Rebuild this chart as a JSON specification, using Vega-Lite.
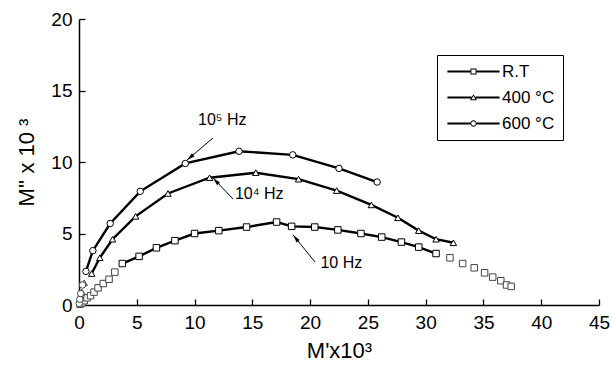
{
  "$schema": "https://vega.github.io/schema/vega-lite/v6.json",
  "width": 520,
  "height": 286,
  "autosize": "none",
  "padding": {"left": 79, "top": 19, "right": 13, "bottom": 65},
  "background": "white",
  "config": {
    "view": {"stroke": null},
    "font": "Liberation Sans",
    "axis": {
      "grid": false,
      "domainColor": "black",
      "domainWidth": 1.5,
      "tickColor": "black",
      "tickWidth": 1.3,
      "labelColor": "black",
      "labelFont": "Liberation Sans",
      "labelFontSize": 19,
      "titleFont": "Liberation Sans",
      "titleFontSize": 22,
      "titleFontWeight": "normal",
      "titleColor": "black",
      "labelOverlap": false,
      "labelFlush": false
    }
  },
  "datasets": {
    "pts": [
      {"s": "R.T", "x": 0.1, "y": 0.05, "c": 0},
      {"s": "R.T", "x": 0.25, "y": 0.15, "c": 0},
      {"s": "R.T", "x": 0.45, "y": 0.3, "c": 0},
      {"s": "R.T", "x": 0.7, "y": 0.5, "c": 0},
      {"s": "R.T", "x": 1.0, "y": 0.65, "c": 0},
      {"s": "R.T", "x": 1.3, "y": 0.9, "c": 0},
      {"s": "R.T", "x": 1.65, "y": 1.2, "c": 0},
      {"s": "R.T", "x": 2.1, "y": 1.5, "c": 0},
      {"s": "R.T", "x": 2.6, "y": 1.8, "c": 0},
      {"s": "R.T", "x": 3.1, "y": 2.3, "c": 0},
      {"s": "R.T", "x": 3.75, "y": 2.9, "c": 1},
      {"s": "R.T", "x": 5.2, "y": 3.4, "c": 1},
      {"s": "R.T", "x": 6.7, "y": 4.0, "c": 1},
      {"s": "R.T", "x": 8.3, "y": 4.5, "c": 1},
      {"s": "R.T", "x": 10.0, "y": 5.0, "c": 1},
      {"s": "R.T", "x": 12.1, "y": 5.2, "c": 1},
      {"s": "R.T", "x": 14.5, "y": 5.45, "c": 1},
      {"s": "R.T", "x": 17.1, "y": 5.8, "c": 1},
      {"s": "R.T", "x": 18.4, "y": 5.5, "c": 1},
      {"s": "R.T", "x": 20.4, "y": 5.45, "c": 1},
      {"s": "R.T", "x": 22.4, "y": 5.25, "c": 1},
      {"s": "R.T", "x": 24.4, "y": 5.0, "c": 1},
      {"s": "R.T", "x": 26.2, "y": 4.75, "c": 1},
      {"s": "R.T", "x": 27.9, "y": 4.4, "c": 1},
      {"s": "R.T", "x": 29.4, "y": 4.05, "c": 1},
      {"s": "R.T", "x": 30.9, "y": 3.6, "c": 1},
      {"s": "R.T", "x": 32.1, "y": 3.3, "c": 0},
      {"s": "R.T", "x": 33.2, "y": 2.9, "c": 0},
      {"s": "R.T", "x": 34.2, "y": 2.6, "c": 0},
      {"s": "R.T", "x": 35.1, "y": 2.25, "c": 0},
      {"s": "R.T", "x": 35.8, "y": 1.95, "c": 0},
      {"s": "R.T", "x": 36.5, "y": 1.7, "c": 0},
      {"s": "R.T", "x": 37.0, "y": 1.4, "c": 0},
      {"s": "R.T", "x": 37.4, "y": 1.3, "c": 0},
      {"s": "400 °C", "x": 0.05, "y": 0.2, "c": 0},
      {"s": "400 °C", "x": 0.12, "y": 0.5, "c": 0},
      {"s": "400 °C", "x": 0.25, "y": 0.9, "c": 0},
      {"s": "400 °C", "x": 0.45, "y": 1.55, "c": 0},
      {"s": "400 °C", "x": 1.1, "y": 2.2, "c": 1},
      {"s": "400 °C", "x": 1.8, "y": 3.3, "c": 1},
      {"s": "400 °C", "x": 2.9, "y": 4.6, "c": 1},
      {"s": "400 °C", "x": 4.9, "y": 6.2, "c": 1},
      {"s": "400 °C", "x": 7.7, "y": 7.8, "c": 1},
      {"s": "400 °C", "x": 11.3, "y": 8.9, "c": 1},
      {"s": "400 °C", "x": 15.3, "y": 9.25, "c": 1},
      {"s": "400 °C", "x": 19.0, "y": 8.8, "c": 1},
      {"s": "400 °C", "x": 22.3, "y": 8.0, "c": 1},
      {"s": "400 °C", "x": 25.3, "y": 7.0, "c": 1},
      {"s": "400 °C", "x": 27.6, "y": 6.1, "c": 1},
      {"s": "400 °C", "x": 29.4, "y": 5.2, "c": 1},
      {"s": "400 °C", "x": 30.9, "y": 4.6, "c": 1},
      {"s": "400 °C", "x": 32.4, "y": 4.35, "c": 1},
      {"s": "600 °C", "x": 0.02, "y": 0.1, "c": 0},
      {"s": "600 °C", "x": 0.07, "y": 0.4, "c": 0},
      {"s": "600 °C", "x": 0.15, "y": 0.8, "c": 0},
      {"s": "600 °C", "x": 0.3, "y": 1.4, "c": 0},
      {"s": "600 °C", "x": 0.6, "y": 2.35, "c": 1},
      {"s": "600 °C", "x": 1.2, "y": 3.8, "c": 1},
      {"s": "600 °C", "x": 2.7, "y": 5.7, "c": 1},
      {"s": "600 °C", "x": 5.3, "y": 7.95, "c": 1},
      {"s": "600 °C", "x": 9.2, "y": 9.9, "c": 1},
      {"s": "600 °C", "x": 13.85, "y": 10.75, "c": 1},
      {"s": "600 °C", "x": 18.5, "y": 10.5, "c": 1},
      {"s": "600 °C", "x": 22.5, "y": 9.55, "c": 1},
      {"s": "600 °C", "x": 25.8, "y": 8.6, "c": 1}
    ],
    "arrows": [
      {"x": 11.6, "y": 11.68, "x2": 9.35, "y2": 10.14, "a": 230},
      {"x": 13.33, "y": 7.41, "x2": 11.6, "y2": 8.88, "a": 316},
      {"x": 20.43, "y": 3.0, "x2": 18.53, "y2": 4.9, "a": 321}
    ],
    "labels": [
      {"x": 12.4, "y": 12.94, "t": "10⁵ Hz"},
      {"x": 15.6, "y": 7.76, "t": "10⁴ Hz"},
      {"x": 22.7, "y": 2.94, "t": "10 Hz"}
    ]
  },
  "resolve": {"scale": {"shape": "independent"}, "legend": {"shape": "independent"}},
  "layer": [
    {
      "data": {"name": "pts"},
      "transform": [{"filter": "datum.c == 1"}],
      "mark": {"type": "line", "stroke": "black", "strokeWidth": 2.4},
      "encoding": {
        "x": {
          "field": "x", "type": "quantitative",
          "scale": {"domain": [0, 45], "nice": false, "zero": false},
          "axis": {
            "title": "M'x10³",
            "values": [0, 2.5, 5, 7.5, 10, 12.5, 15, 17.5, 20, 22.5, 25, 27.5, 30, 32.5, 35, 37.5, 40, 42.5, 45],
            "labelExpr": "datum.value % 5 == 0 ? format(datum.value, 'd') : ''",
            "tickSize": {"condition": {"test": "datum.value % 5 == 0", "value": -6}, "value": -3},
            "labelPadding": 14,
            "titlePadding": 8
          }
        },
        "y": {
          "field": "y", "type": "quantitative",
          "scale": {"domain": [0, 20], "nice": false, "zero": false},
          "axis": {
            "title": "M'' x 10 ³",
            "values": [0, 5, 10, 15, 20],
            "tickSize": -6,
            "labelPadding": 13,
            "titlePadding": 12
          }
        },
        "detail": {"field": "s"}
      }
    },
    {
      "data": {"name": "pts"},
      "mark": {"type": "point", "fill": "white", "strokeWidth": 1, "opacity": 1, "size": 42},
      "encoding": {
        "x": {"field": "x", "type": "quantitative"},
        "y": {"field": "y", "type": "quantitative"},
        "shape": {
          "field": "s", "type": "nominal",
          "scale": {"domain": ["R.T", "400 °C", "600 °C"], "range": ["square", "triangle-up", "circle"]},
          "legend": null
        },
        "stroke": {"condition": {"test": "datum.c == 0", "value": "#444"}, "value": "black"}
      }
    },
    {
      "data": {"name": "pts"},
      "transform": [{"filter": "datum.c == 99"}],
      "mark": {"type": "point", "filled": true, "fill": "black", "strokeWidth": 0, "opacity": 1, "size": 36},
      "encoding": {
        "x": {"field": "x", "type": "quantitative"},
        "y": {"field": "y", "type": "quantitative"},
        "shape": {
          "field": "s", "type": "nominal",
          "scale": {
            "domain": ["R.T", "400 °C", "600 °C"],
            "range": [
              "M-8.7,-0.33H-1V0.33H-8.7ZM1,-0.33H8.7V0.33H1ZM-1,-1H1V1H-1ZM-0.7,-0.7V0.7H0.7V-0.7Z",
              "M-8.7,-0.33H-0.64V0.33H-8.7ZM0.64,-0.33H8.7V0.33H0.64ZM0,-1.1L1.17,0.9L-1.17,0.9ZM0,-0.51L-0.65,0.6L0.65,0.6Z",
              "M-8.7,-0.33H-1V0.33H-8.7ZM1,-0.33H8.7V0.33H1ZM1.05,0A1.05,1.05 0 1,1 -1.05,0A1.05,1.05 0 1,1 1.05,0ZM0.75,0A0.75,0.75 0 1,0 -0.75,0A0.75,0.75 0 1,0 0.75,0Z"
            ]
          },
          "legend": {
            "title": null,
            "orient": "none",
            "legendX": 358,
            "legendY": 36,
            "padding": 8,
            "strokeColor": "black",
            "fillColor": "white",
            "labelFont": "Liberation Sans",
            "labelFontSize": 17,
            "labelColor": "black",
            "symbolSize": 36,
            "symbolFillColor": "black",
            "symbolStrokeColor": "black",
            "symbolStrokeWidth": 0,
            "symbolOpacity": 1,
            "symbolOffset": 20,
            "labelOffset": 20,
            "rowPadding": 8
          }
        }
      }
    },
    {
      "data": {"name": "arrows"},
      "mark": {"type": "rule", "stroke": "black", "strokeWidth": 1},
      "encoding": {
        "x": {"field": "x", "type": "quantitative"},
        "y": {"field": "y", "type": "quantitative"},
        "x2": {"field": "x2"},
        "y2": {"field": "y2"}
      }
    },
    {
      "data": {"name": "arrows"},
      "mark": {"type": "point", "shape": "M0,0L-1,4L1,4Z", "filled": true, "fill": "black", "stroke": null, "size": 16, "opacity": 1},
      "encoding": {
        "x": {"field": "x2", "type": "quantitative"},
        "y": {"field": "y2", "type": "quantitative"},
        "angle": {"field": "a", "type": "quantitative", "scale": null}
      }
    },
    {
      "data": {"name": "labels"},
      "mark": {"type": "text", "font": "Liberation Sans", "fontSize": 16, "color": "black", "align": "center", "baseline": "middle"},
      "encoding": {
        "x": {"field": "x", "type": "quantitative"},
        "y": {"field": "y", "type": "quantitative"},
        "text": {"field": "t"}
      }
    }
  ]
}
